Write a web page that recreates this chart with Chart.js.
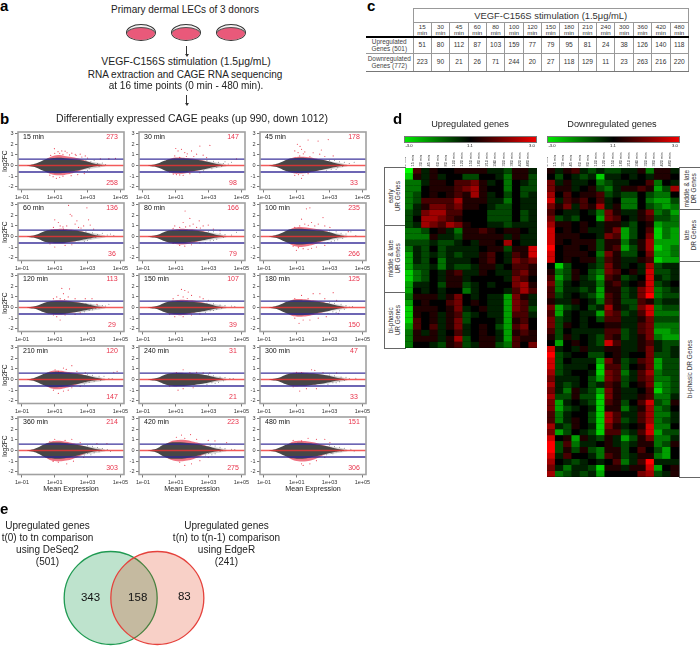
<!DOCTYPE html>
<html>
  <head>
    <meta charset="utf-8" />
    <title>VEGF-C156S CAGE time course</title>
    <script src="https://cdn.jsdelivr.net/npm/chart.js"></script>
    <style>
      html, body { margin: 0; padding: 0; background: #fff; }
      #page { position: relative; width: 700px; height: 646px; overflow: hidden; font-family: "Liberation Sans", sans-serif; color: #222; }
      #page canvas { position: absolute; }
      .txt { position: absolute; white-space: nowrap; transform: translate(-50%, -50%); text-align: center; z-index: 3; line-height: 1.2; }
      .letter { position: absolute; font-weight: bold; font-size: 15px; color: #000; z-index: 3; line-height: 1; }
      .grp { position: absolute; box-sizing: border-box; border: 1px solid #666; background: #fff; display: flex; align-items: center; justify-content: center; }
      .grp span { writing-mode: vertical-rl; transform: rotate(180deg); font-size: 6.5px; line-height: 1.15; text-align: center; color: #333; white-space: nowrap; }
      .bar { position: absolute; height: 7px; box-sizing: border-box; border: 1px solid #777; background: linear-gradient(to right, #00e800, #000 50%, #f00000); }
      .dish { position: absolute; width: 30px; height: 17px; box-sizing: border-box; border: 1px solid #333; border-radius: 50%; background: #f4f2f2; overflow: hidden; }
      .dish i { position: absolute; left: -1px; right: -1px; bottom: -1px; height: 14px; border-radius: 50%; background: #e9597a; border: 1px solid #555; box-sizing: border-box; }
      .vline { position: absolute; width: 1px; background: #333; }
      .vhead { position: absolute; width: 0; height: 0; border-left: 2px solid transparent; border-right: 2px solid transparent; border-top: 3px solid #333; }
      table.tc { position: absolute; left: 366px; top: 8px; width: 323px; border-collapse: collapse; table-layout: fixed; font-size: 6.6px; color: #333; z-index: 3; }
      table.tc td { border: 1px solid #999; text-align: center; padding: 0; line-height: 1; }
      table.tc td.blank { border: 0; }
      table.tc tr.title td { height: 13px; font-size: 9.4px; }
      table.tc tr.head td { height: 13px; border-bottom: 2px solid #000; line-height: 0.85; font-size: 6.2px; }
      table.tc tr.head td.blank { border-bottom: 2px solid #000; }
      table.tc tr.r1 td { height: 14px; }
      table.tc tr.r2 td { height: 17px; border-bottom: 1.5px solid #777; }
      table.tc td.lab { border-left: 0; font-size: 6.4px; line-height: 1.15; color: #444; }
    </style>
  </head>
  <body>
    <div id="page"></div>
    <script>
      // panel c
      const tableTimes = [15, 30, 45, 60, 80, 100, 120, 150, 180, 210, 240, 300, 360, 420, 480];
      const tableUp = [51, 80, 112, 87, 103, 159, 77, 79, 95, 81, 24, 38, 126, 140, 118];
      const tableDown = [223, 90, 21, 26, 71, 244, 20, 27, 118, 129, 11, 23, 263, 216, 220];

      // panel b, one entry per MA plot
      const panelNames = ["15 min", "30 min", "45 min", "60 min", "80 min", "100 min", "120 min", "150 min", "180 min", "210 min", "240 min", "300 min", "360 min", "420 min", "480 min"];
      const upCounts = [273, 147, 178, 136, 166, 235, 113, 107, 125, 120, 31, 47, 214, 223, 151];
      const downCounts = [258, 98, 33, 36, 79, 266, 29, 39, 150, 147, 21, 33, 303, 275, 306];
      const xTicks = [-1, 1, 3, 5];
      const yTicks = [-2, -1, 0, 1, 2, 3];
      const foldLimit = 0.6;

      // outline of the dense grey cloud, x is log10 of mean expression
      const cloudX = [-0.7, -0.3, 0, 0.3, 0.6, 1, 1.5, 2, 2.5, 3, 3.5, 3.9];
      const cloudTop = [
        [.01,.12,.28,.5,.66,.72,.72,.62,.52,.36,.14,.04],
        [.01,.1,.24,.44,.6,.66,.66,.58,.48,.33,.14,.04],
        [.01,.12,.28,.5,.66,.72,.72,.64,.54,.38,.16,.05],
        [.01,.1,.24,.44,.58,.62,.62,.58,.5,.33,.12,.03],
        [.01,.1,.22,.42,.56,.6,.62,.58,.49,.35,.14,.04],
        [.01,.12,.28,.5,.68,.74,.72,.62,.54,.4,.16,.05],
        [.01,.1,.22,.4,.54,.58,.58,.54,.45,.31,.12,.03],
        [.01,.1,.22,.42,.56,.6,.6,.54,.45,.33,.13,.03],
        [.01,.12,.28,.5,.64,.68,.66,.6,.49,.35,.16,.05],
        [.01,.12,.3,.52,.67,.72,.68,.6,.49,.35,.16,.05],
        [.01,.1,.22,.42,.56,.6,.6,.56,.49,.35,.16,.05],
        [.01,.1,.22,.42,.56,.6,.6,.56,.47,.33,.14,.04],
        [.01,.12,.3,.55,.72,.76,.74,.62,.49,.33,.14,.04],
        [.01,.12,.32,.58,.74,.78,.76,.66,.55,.37,.16,.05],
        [.01,.12,.3,.52,.67,.72,.7,.62,.49,.33,.14,.04],
      ];
      const cloudBottom = [
        [-.01,-.12,-.28,-.5,-.66,-.72,-.7,-.55,-.41,-.23,-.06,-.01],
        [-.01,-.1,-.24,-.44,-.6,-.66,-.66,-.52,-.41,-.25,-.08,-.02],
        [-.01,-.12,-.28,-.5,-.64,-.7,-.68,-.55,-.41,-.25,-.08,-.02],
        [-.01,-.1,-.24,-.44,-.56,-.6,-.6,-.5,-.37,-.21,-.06,-.01],
        [-.01,-.1,-.22,-.42,-.56,-.6,-.6,-.5,-.39,-.23,-.08,-.02],
        [-.01,-.12,-.28,-.5,-.68,-.74,-.72,-.58,-.43,-.27,-.1,-.02],
        [-.01,-.1,-.22,-.42,-.56,-.6,-.6,-.5,-.37,-.21,-.06,-.01],
        [-.01,-.1,-.22,-.42,-.56,-.6,-.6,-.5,-.39,-.23,-.08,-.01],
        [-.01,-.12,-.28,-.5,-.66,-.72,-.7,-.58,-.45,-.29,-.12,-.03],
        [-.01,-.12,-.3,-.52,-.67,-.72,-.68,-.52,-.37,-.19,-.06,-.02],
        [-.01,-.1,-.22,-.42,-.56,-.6,-.6,-.52,-.41,-.27,-.1,-.03],
        [-.01,-.1,-.22,-.42,-.56,-.58,-.58,-.5,-.39,-.25,-.1,-.03],
        [-.01,-.12,-.3,-.55,-.73,-.76,-.74,-.6,-.41,-.21,-.06,-.02],
        [-.01,-.12,-.32,-.58,-.74,-.78,-.74,-.58,-.41,-.21,-.06,-.02],
        [-.01,-.12,-.3,-.52,-.7,-.76,-.74,-.58,-.41,-.23,-.08,-.02],
      ];

      // thin sparse zone right of the cloud, same for all plots
      const tailX = [2.2, 2.6, 3, 3.4, 3.8, 4.1];
      const tailTop = [.5, .45, .4, .3, .2, .08];
      const tailBottom = [-.45, -.45, -.35, -.25, -.15, -.06];

      // how far the dense red dots reach outside the cloud
      const fringeX = [0.4, 0.8, 1.2, 1.6, 2, 2.4, 2.8, 3.2];
      const fringeTop = [
        [.55,.85,.98,.9,.8,.68,.5,.28],
        [.5,.72,.76,.72,.66,.56,.42,.2],
        [.5,.76,.82,.8,.72,.6,.44,.22],
        [.48,.68,.72,.72,.66,.56,.42,.2],
        [.46,.66,.72,.72,.68,.58,.44,.2],
        [.52,.82,.9,.86,.76,.66,.5,.26],
        [.44,.62,.68,.66,.6,.5,.36,.18],
        [.46,.66,.72,.72,.68,.56,.4,.2],
        [.5,.76,.8,.76,.68,.58,.42,.24],
        [.54,.8,.84,.76,.68,.58,.42,.24],
        [.46,.62,.64,.62,.58,.5,.38,.2],
        [.46,.63,.66,.63,.58,.48,.36,.2],
        [.6,.86,.92,.86,.74,.58,.4,.2],
        [.62,.92,1,.98,.86,.72,.5,.24],
        [.56,.86,.92,.88,.78,.62,.42,.22],
      ];
      const fringeBottom = [
        [-.55,-.82,-.92,-.88,-.75,-.55,-.32,-.1],
        [-.5,-.72,-.78,-.72,-.6,-.45,-.28,-.1],
        [-.5,-.72,-.74,-.7,-.58,-.42,-.25,-.1],
        [-.46,-.64,-.66,-.62,-.52,-.36,-.2,-.08],
        [-.46,-.66,-.74,-.72,-.6,-.44,-.26,-.1],
        [-.56,-.86,-.98,-.9,-.76,-.55,-.32,-.12],
        [-.46,-.64,-.68,-.62,-.5,-.34,-.18,-.06],
        [-.46,-.66,-.72,-.68,-.54,-.38,-.22,-.08],
        [-.54,-.82,-.86,-.82,-.7,-.52,-.34,-.16],
        [-.56,-.84,-.92,-.82,-.66,-.44,-.24,-.1],
        [-.46,-.62,-.64,-.6,-.52,-.4,-.24,-.1],
        [-.46,-.62,-.64,-.6,-.5,-.38,-.22,-.08],
        [-.62,-.94,-1.02,-.96,-.84,-.6,-.32,-.1],
        [-.62,-.92,-1.02,-.96,-.84,-.6,-.3,-.1],
        [-.6,-.9,-1.02,-1,-.86,-.6,-.3,-.12],
      ];

      // single red outliers [log10 mean, log2FC]
      const redDots = [
        [[.98,1.58],[1.2,1.3],[1.43,1.37],[1.63,1.35],[1.3,1.15],[1.75,1.2],[2.04,1.16],[2.25,1.05],[2.55,1.07],[2.3,.95],[2.86,.9],[2.65,.8],[3,.7],[3.78,.62],[1,1.15],[.75,.95],[1.5,1.05],[1.9,1],[.9,-1.05],[1.3,-1.1],[1.5,-1],[2,-.95],[2.4,-.85],[.7,-.9],[2.8,-.75],[1.1,-1.2],[4.3,.65],[4.7,.67]],
        [[1,1.6],[1.14,1.37],[1.35,1.52],[1.55,1.22],[1.96,1.37],[2.47,1.83],[3.08,1.89],[2.27,1.07],[2.67,.97],[.94,.9],[1.24,.76],[1.65,.85],[2.88,.75],[4.7,.62],[1.04,-.85],[1.45,-.92],[1.86,-.76],[2.47,-.67],[.63,-.62],[.85,-.8],[1.24,-.88],[1.7,1.1],[2.1,.85]],
        [[1.04,2],[1.29,1.52],[1.69,2.4],[2.3,2.3],[2.92,2.44],[.88,1.37],[1.08,1.22],[1.49,1.28],[2,1.2],[2.5,1.46],[2.4,1.07],[1.18,.9],[1.8,.85],[2.71,.85],[3.22,.9],[1.2,1.8],[1.4,1.1],[.88,-.92],[1.29,-1.2],[1.38,-.92],[1.69,-.76],[.98,-.67],[1.1,-.85]],
        [[1.84,2.92],[2.96,2.7],[1,1.57],[1.22,1.32],[1.94,2.09],[2.04,1.94],[3.06,1.57],[3.16,1.08],[1.33,1],[1.73,1],[2.24,1.17],[2.45,.86],[2.76,1],[2.35,1.48],[.92,.86],[1.53,.7],[3.37,.7],[1.5,.9],[2.6,.8],[1,-.98],[1.63,-.83],[2.04,-.77],[.71,-.68]],
        [[1.57,2.4],[1.86,1.7],[2.43,1.48],[.94,1],[1.24,.86],[1.45,1.32],[1.86,1],[2.27,.86],[2.67,1],[2.98,1.08],[3.29,.7],[3.7,.55],[.84,.77],[2.06,1.17],[1.6,.9],[2.5,.8],[1.24,-.83],[1.55,-.9],[1.96,-.77],[.84,-.65],[2.47,-.6]],
        [[1.59,2.6],[1.8,2.7],[2.6,1.78],[1.29,1.63],[.88,.86],[1.18,1],[1.49,1.17],[1.9,1.32],[2.1,1],[2.31,1.17],[2.71,1],[3.02,.86],[4.14,.46],[1.7,1.05],[.98,-1.29],[1.69,-1.2],[1.39,-1.14],[2.2,-.98],[2.71,-.83],[.78,-.9],[1.1,-1.05],[1.9,-1.1]],
        [[1.43,1.8],[1.9,1.75],[1.53,1.3],[1.12,1],[.92,.83],[1.33,.83],[1.82,1],[2.24,.83],[2.86,.83],[3.27,.83],[3.57,.3],[1.6,.75],[1.33,-1.17],[1.12,-.86],[1.63,-.7],[2.24,-.65],[.92,-.7],[2.55,-.5]],
        [[1.35,1.7],[1.55,1.6],[1.76,1.45],[.84,.83],[1.14,1.14],[1.45,1],[1.96,1.14],[2.47,1],[2.67,.83],[2.98,.68],[1.7,.85],[.94,-.86],[1.45,-.86],[1.96,-.7],[.63,-.65],[2.47,-.6]],
        [[2.41,1.3],[2,1.3],[3.22,1.4],[1.29,1.14],[.88,.83],[1.69,.83],[2.71,.83],[3.43,.68],[1.14,-1.48],[1.39,-1.17],[.88,-1],[1.8,-1.17],[2.31,-1],[2.8,-.86],[3.53,-.55]],
        [[2.04,1.3],[1.53,1.08],[1.02,.92],[1.22,.77],[2.35,.77],[2.86,.62],[4.6,.68],[4.8,.77],[1.7,.95],[1.22,-1.3],[.92,-1],[1.53,-1.08],[1.82,-1],[2.04,-.77],[2.55,-.65]],
        [[1.45,.92],[1.04,.65],[2.27,.68],[2.67,.62],[3.08,.62],[1.86,.66],[1.14,-1],[1.45,-.86],[.63,-.62],[2.06,-.77]],
        [[1.9,.92],[2.1,.86],[1.29,.66],[2.6,.66],[3.43,.62],[.98,.68],[1.18,-1.08],[1.59,-.86],[2.2,-.86],[.78,-.68]],
        [[1,1.05],[1.63,.95],[2.04,1.05],[2.55,.75],[3.57,.65],[4.18,.65],[.7,.85],[1.22,-1.1],[1.73,-1.25],[2.14,-1],[2.76,-.65],[.9,-1.02]],
        [[1.35,1.45],[1.9,1.5],[1.04,1.25],[1.55,1.15],[2.27,1.05],[2.98,.95],[3.39,.9],[4.1,.75],[1.55,-1.4],[1.96,-1.25],[1.24,-1.1],[2.47,-.95],[2.98,-.65]],
        [[.78,.95],[1.69,1.15],[2.2,1.05],[2.71,1.05],[1.29,.9],[3.02,.75],[1.29,-1.25],[1.39,-1.4],[1.8,-1.25],[2.2,-.95],[2.71,-.65]],
      ];

      // grey stragglers at high expression
      const greyDots = [
        [[2.9,.45],[3.2,.35],[3.4,.5],[3.6,.2],[3.3,-.05],[3,-.45],[2.8,-.55],[3.5,.1],[3.9,.25],[4.1,.1],[4.3,.6],[3.1,-.3],[3.7,-.1]],
        [[2.9,.5],[3.3,.4],[3.6,.3],[3.9,.2],[4.2,.15],[3.2,-.3],[3.5,-.15],[2.7,-.5],[4.4,.3],[3.8,-.08],[4,.35]],
        [[3,.5],[3.3,.5],[3.6,.35],[3.9,.3],[4.2,.2],[3.1,-.35],[3.5,-.2],[2.8,-.5],[4.5,.3],[3.8,-.1],[3.4,-.35]],
        [[2.9,.45],[3.3,.35],[3.6,.2],[3.9,.3],[4.2,.15],[3.2,-.2],[3.5,-.08],[2.8,-.45],[4.4,.25],[4.6,.1],[3,-.35]],
        [[3,.45],[3.3,.45],[3.7,.3],[4,.2],[4.4,.15],[3.1,-.4],[3.5,-.25],[2.8,-.55],[3.9,-.1],[3.3,-.35],[4.7,.4]],
        [[3,.55],[3.4,.45],[3.7,.3],[4,.25],[4.3,.45],[3.1,-.45],[3.5,-.3],[2.9,-.55],[3.8,-.15],[3.3,-.4],[4.6,.1]],
        [[2.9,.35],[3.2,.3],[3.6,.25],[3.9,.2],[4.3,.3],[3.1,-.25],[3.5,-.1],[2.8,-.4],[3.7,-.05],[3.3,-.2],[4.1,.15]],
        [[2.9,.4],[3.3,.35],[3.7,.25],[4,.2],[4.4,.15],[3.1,-.3],[3.5,-.15],[2.8,-.45],[3.8,-.06],[3.3,-.28],[4.6,.1]],
        [[3,.45],[3.3,.4],[3.7,.3],[4,.2],[4.4,.1],[3.2,-.4],[3.6,-.3],[2.9,-.55],[3.9,-.15],[3.4,-.45],[4.2,.05]],
        [[3,.45],[3.3,.4],[3.7,.3],[4,.3],[4.3,.1],[3.1,-.25],[3.4,-.15],[2.8,-.42],[3.8,-.08],[2.9,-.3],[4.5,.1]],
        [[3,.45],[3.3,.35],[3.7,.25],[4,.2],[4.3,.1],[3.2,-.3],[3.6,-.25],[2.9,-.45],[3.9,-.12],[3.4,-.35],[4.5,.1]],
        [[3,.42],[3.3,.35],[3.7,.25],[4,.22],[4.2,.1],[3.2,-.3],[3.6,-.2],[2.9,-.45],[3.9,-.1],[3.4,-.3],[4.6,.12]],
        [[3,.45],[3.3,.4],[3.6,.28],[3.9,.2],[4.2,.1],[3,-.25],[3.4,-.2],[2.8,-.42],[3.7,-.12],[3.2,-.4],[4.4,-.1]],
        [[3.1,.5],[3.4,.42],[3.7,.3],[4,.2],[4.4,.12],[3,-.28],[3.4,-.3],[2.8,-.42],[3.7,-.1],[3.2,-.4],[4.6,.1]],
        [[3,.45],[3.3,.38],[3.6,.3],[3.9,.22],[4.3,.12],[3.1,-.25],[3.4,-.12],[2.8,-.4],[3.7,-.08],[3.2,-.3],[4.5,-.05]],
      ];

      // panel d, rows of half-log units (-6 = -3.0, 6 = 3.0)
      const heatColumns = ["0 min", "15 min", "30 min", "45 min", "60 min", "80 min", "100 min", "120 min", "150 min", "180 min", "210 min", "240 min", "300 min", "360 min", "420 min", "480 min"];
      const upHeat = [
        [-6,2,-1,1,0,0,1,1,1,1,-1,-1,-2,1,1,-1],
        [-5,1,-1,1,-1,0,0,-2,-2,0,0,-1,-3,1,1,-2],
        [-3,-3,-1,1,1,0,2,2,3,1,-1,0,-3,0,-1,-2],
        [-3,-3,0,1,1,1,2,3,4,1,0,0,-3,0,-2,-2],
        [-3,-2,0,1,0,1,2,1,4,1,-1,0,-2,0,-2,-1],
        [-3,-2,2,2,2,2,4,1,1,1,-1,-1,-3,0,-1,-1],
        [-3,-1,1,3,3,2,3,1,1,0,-1,-2,-2,0,-1,-1],
        [-2,-1,3,4,4,2,2,0,0,0,-2,-2,-2,0,-2,-1],
        [-2,0,4,4,3,2,1,0,0,0,-2,-2,-2,0,-2,-1],
        [-2,-1,4,3,2,4,3,1,0,0,-1,-1,-2,-1,-1,-1],
        [-3,-3,-2,0,1,-1,-3,1,1,2,1,0,1,1,0,-1],
        [-3,-3,-3,1,-1,-1,-2,1,1,1,1,1,-1,1,-1,-1],
        [-2,-2,-2,-1,-2,-2,-1,0,-1,1,1,0,4,0,-1,-1],
        [-3,-1,-2,0,-2,-1,-1,-1,-1,0,1,1,-2,1,1,5],
        [-4,-1,-2,-1,-2,-1,-2,-1,-1,1,2,0,-1,2,1,5],
        [-4,-1,-2,0,-3,-1,-1,-1,0,1,2,0,-1,3,2,3],
        [-4,-2,-2,-1,-3,-1,-2,-2,-1,1,1,-1,0,2,2,1],
        [-5,-3,-2,0,-1,1,2,-1,-1,1,0,-1,-1,2,3,1],
        [-5,-3,-2,0,-1,1,1,-1,0,0,0,0,-1,3,2,0],
        [-4,-1,-1,0,-2,1,1,-2,-1,0,-1,0,0,3,4,1],
        [-4,0,-1,0,-1,0,0,-3,-1,0,0,0,-1,2,4,2],
        [-3,1,1,1,-1,1,3,0,-1,0,-1,-1,-4,3,1,-1],
        [-4,0,1,0,0,2,3,0,1,0,-1,-1,-4,3,2,-1],
        [-5,1,1,1,0,1,3,-1,0,1,-1,-1,-4,3,2,-2],
        [-5,1,0,1,-1,1,2,-2,-1,0,-1,-1,-4,2,2,-1],
        [-5,2,0,1,-1,1,3,-2,0,0,0,-1,-4,1,2,0],
        [-4,2,0,2,-1,1,3,-1,0,1,0,-2,-4,2,3,0],
        [-3,1,-1,1,-1,0,2,-1,0,1,0,-1,-4,1,2,1],
        [-3,1,1,1,-1,1,4,-2,0,1,1,-1,-4,2,1,1],
        [-3,0,0,-1,-2,1,2,-2,-1,1,1,-2,-3,2,0,3],
      ];
      const downHeat = [
        [1,-1,1,2,-1,-2,-1,-2,-2,-1,-1,1,-3,1,1,-1],
        [0,-2,0,-1,-2,-1,-5,-1,-1,0,-1,0,-1,1,1,0],
        [3,-1,1,-1,-1,0,-3,-2,-1,-1,0,0,2,-3,0,-1],
        [3,1,1,-1,0,1,-2,-3,-1,1,1,2,1,-4,-2,4],
        [4,0,2,0,1,1,2,-2,-1,-2,-2,0,-2,-3,-3,0],
        [5,-1,2,1,2,0,2,-1,0,-3,-3,0,-3,-4,-4,-2],
        [3,1,3,-1,2,1,4,-1,1,-3,-3,0,-2,-3,-4,-3],
        [2,0,-1,-1,0,-1,-3,3,1,-1,-1,1,3,-3,-2,-4],
        [3,-2,-1,-2,0,0,-4,3,2,0,-1,1,2,-2,-2,-3],
        [4,1,1,0,1,0,-1,1,1,-1,-2,0,1,-4,-3,-3],
        [5,0,1,0,1,-1,-1,1,3,-4,-2,0,2,-5,-3,-4],
        [5,1,1,1,0,0,-1,3,2,-4,-2,0,3,-5,-3,-4],
        [5,1,0,1,1,1,-2,1,1,-3,-1,1,4,-4,-4,-4],
        [6,0,1,1,0,1,-2,1,2,-4,-2,1,4,-5,-4,-3],
        [5,0,1,1,1,0,-3,3,1,-2,-2,0,3,-4,-4,-3],
        [5,0,1,0,1,1,-2,2,1,-1,-1,1,2,-5,-4,-4],
        [0,-5,-2,0,0,-1,-2,3,1,-1,0,-1,4,-2,-1,-1],
        [1,-3,-2,1,0,-2,-3,3,2,0,1,-1,5,-2,-2,-1],
        [2,-4,-2,1,-1,-2,-4,2,1,-2,-1,0,5,-1,-2,-1],
        [3,-3,-1,0,-1,-1,-3,1,2,-1,0,1,5,-2,-1,0],
        [2,-3,-1,-1,-2,-1,-4,1,1,-2,-1,3,5,-3,-2,-1],
        [2,-2,-1,0,-1,-2,-4,2,1,-2,-1,3,6,-3,-2,-2],
        [1,-1,-1,1,0,-1,-3,2,1,-2,-2,2,1,-2,-1,-1],
        [3,-4,-2,-1,0,-2,-1,4,1,-1,-2,3,5,-3,-2,-2],
        [2,-4,-1,0,-1,-1,-4,3,2,-2,-1,2,5,-3,-3,-3],
        [3,-2,-1,0,-1,0,-2,2,2,-1,-1,1,3,-2,-2,-2],
        [3,-2,1,0,-1,0,0,1,1,-1,-1,2,3,-3,-3,-3],
        [2,-2,0,-1,-1,-1,-1,2,2,-2,-1,2,3,-4,-4,-3],
        [1,-2,1,-1,0,-1,-2,2,1,-2,-1,1,3,-3,-4,-4],
        [0,-4,0,1,0,-1,-2,5,2,-1,-1,1,2,-1,-2,-2],
        [5,-1,0,-1,1,-1,-1,1,1,-1,-1,1,3,-1,-2,-1],
        [6,-2,-1,0,0,-2,-2,0,1,-1,0,0,3,-2,-2,-1],
        [5,-2,0,-1,-1,-1,-4,3,1,-2,-1,2,3,-4,-2,-2],
        [5,-2,-1,-1,-1,0,-5,2,2,-2,0,1,3,-4,-2,-2],
        [4,-2,-1,0,0,-1,-5,3,2,-3,-1,2,4,-3,-2,-2],
        [3,-1,-1,-1,0,-2,-4,3,2,-2,-1,2,3,-3,-3,-2],
        [4,-1,-2,-1,0,-2,-1,2,1,-2,0,1,3,-4,-3,-2],
        [3,-1,-3,1,-1,-2,-4,3,1,-1,-1,0,2,-5,-3,-2],
        [4,-2,-2,1,-2,-2,-5,3,1,-1,-1,1,2,-3,-3,-1],
        [3,-4,-1,0,-1,-2,-5,2,1,-2,0,2,5,-2,-3,1],
        [3,-4,-2,-1,0,-1,-5,1,1,-3,-1,1,4,-3,-2,0],
        [2,-3,-1,0,0,-2,-5,4,2,-1,-1,2,4,-3,-3,-1],
        [2,-3,-1,1,0,-2,-5,4,2,-2,-1,2,4,-3,-2,-1],
        [4,-1,-2,1,0,-1,-5,3,1,-1,0,1,5,-3,-3,0],
        [3,-4,-2,0,-1,-2,-5,2,2,-2,-1,2,5,-4,-2,-2],
        [5,0,1,-4,1,-1,-2,1,-1,-4,-2,1,3,-3,-3,-1],
        [6,-2,2,-3,-1,-1,0,1,-1,-2,-1,1,1,-3,-2,1],
        [6,-2,1,-2,1,-2,-3,1,1,-2,0,2,0,-2,-4,0],
        [5,-1,2,0,0,-1,-3,2,1,-2,-1,1,1,-3,-4,0],
        [4,0,-1,-2,-1,0,-1,0,2,-3,-1,2,6,-1,-1,-1],
        [3,-1,-3,-1,-1,-2,-5,1,1,-1,1,1,5,-4,0,1],
        [4,-3,-2,-1,-2,-1,-4,0,0,0,0,3,4,-2,-1,1],
      ];

      // panel e
      const vennCounts = [343, 158, 83];
      const vennSets = [0, 1];

      Chart.defaults.font.family = '"Liberation Sans", sans-serif';
      Chart.defaults.animation = false;
      Chart.defaults.events = [];
      Chart.defaults.plugins.legend.display = false;
      Chart.defaults.plugins.tooltip.enabled = false;

      const page = document.getElementById("page");

      function addText(text, x, y, size, extra) {
        const el = document.createElement("div");
        el.className = "txt";
        el.style.cssText = `left:${x}px;top:${y}px;font-size:${size}px;${extra || ""}`;
        el.textContent = text;
        page.appendChild(el);
        return el;
      }

      function addCanvas(x, y, w, h) {
        const c = document.createElement("canvas");
        c.width = w;
        c.height = h;
        c.style.left = x + "px";
        c.style.top = y + "px";
        page.appendChild(c);
        return c;
      }

      function addLetter(text, x, y) {
        const el = document.createElement("div");
        el.className = "letter";
        el.style.left = x + "px";
        el.style.top = y + "px";
        el.textContent = text;
        page.appendChild(el);
      }

      function pairs(xs, ys) {
        return xs.map((x, i) => ({ x: x, y: ys[i] }));
      }

      function areaSet(xs, ys, fill, color) {
        return { data: pairs(xs, ys), fill: fill, backgroundColor: color, borderWidth: 0, pointRadius: 0, tension: 0.3 };
      }

      function dotSet(list, color, r) {
        return { data: list.map((p) => ({ x: p[0], y: p[1] })), showLine: false, pointRadius: r, pointBorderWidth: 0, pointBackgroundColor: color };
      }

      const xMin = -1.24, xMax = 5.22, yMin = -2.25, yMax = 3.15;

      const boxPlugin = {
        id: "box",
        afterDraw(chart) {
          const a = chart.chartArea, ctx = chart.ctx;
          ctx.save();
          ctx.strokeStyle = "#a0a0a0";
          ctx.lineWidth = 1.6;
          ctx.strokeRect(a.left, a.top, a.right - a.left, a.bottom - a.top);
          ctx.restore();
        },
      };

      const blackPlugin = {
        id: "black",
        beforeDatasetsDraw(chart) {
          const a = chart.chartArea;
          chart.ctx.fillStyle = "#000";
          chart.ctx.fillRect(a.left, a.top, a.right - a.left, a.bottom - a.top);
        },
      };

      function maChart(i) {
        const col = i % 3, row = Math.floor(i / 3);
        const left = 18 + col * 121, top = 131 + row * 71.2;
        const canvas = addCanvas(left - 18, Math.round(top) - 3, 128, 77);
        const edges = [xMin, xMax];
        new Chart(canvas, {
          type: "line",
          data: {
            datasets: [
              { data: pairs(edges, [0, 0]), borderColor: "rgba(240,50,50,0.8)", borderWidth: 1.5, pointRadius: 0 },
              { data: pairs(edges, [foldLimit, foldLimit]), borderColor: "rgba(50,40,150,0.95)", borderWidth: 1.4, pointRadius: 0 },
              { data: pairs(edges, [-foldLimit, -foldLimit]), borderColor: "rgba(50,40,150,0.95)", borderWidth: 1.4, pointRadius: 0 },
              dotSet(redDots[i], "rgba(230,30,50,0.8)", 0.6),
              dotSet(greyDots[i], "rgba(90,90,90,0.8)", 0.5),
              areaSet(cloudX, cloudTop[i], "+1", "#474747"),
              areaSet(cloudX, cloudBottom[i], false, "#474747"),
              areaSet(tailX, tailTop, "+1", "rgba(120,120,120,0.33)"),
              areaSet(tailX, tailBottom, false, "rgba(120,120,120,0.33)"),
              areaSet(fringeX, fringeTop[i], "+1", "rgba(228,30,55,0.62)"),
              areaSet(fringeX, fringeBottom[i], false, "rgba(228,30,55,0.62)"),
            ],
          },
          options: {
            responsive: false,
            layout: { padding: { top: 3, right: 4, left: 0, bottom: 0 } },
            scales: {
              x: {
                type: "linear",
                min: xMin,
                max: xMax,
                afterBuildTicks: (s) => { s.ticks = xTicks.map((v) => ({ value: v })); },
                afterFit: (s) => { s.height = 15.5; s.paddingLeft = 0; s.paddingRight = 0; },
                border: { display: false },
                grid: { drawOnChartArea: false, tickLength: 3, color: "#555", lineWidth: 0.8 },
                ticks: {
                  autoSkip: false,
                  maxRotation: 0,
                  padding: 1.5,
                  color: "#333",
                  font: { size: 5.5 },
                  callback: (v) => "1e" + (v < 0 ? "-" : "+") + "0" + Math.abs(v),
                },
              },
              y: {
                min: yMin,
                max: yMax,
                afterBuildTicks: (s) => { s.ticks = yTicks.map((v) => ({ value: v })); },
                afterFit: (s) => { s.width = 18; s.paddingTop = 0; s.paddingBottom = 0; },
                border: { display: false },
                grid: { drawOnChartArea: false, tickLength: 3, color: "#555", lineWidth: 0.8 },
                ticks: { padding: 1.5, color: "#333", font: { size: 5.5 }, callback: (v) => String(v) },
              },
            },
          },
          plugins: [boxPlugin],
        });
        addText(panelNames[i], left + 5, top + 6, 7, "color:#111;transform:translate(0,-50%)");
        addText(upCounts[i], left + 94, top + 6, 7, "color:#e8324a");
        addText(downCounts[i], left + 94, top + 52, 7, "color:#e8324a");
        if (col === 0) addText("log2FC", 5, top + 30, 6.6, "transform:translate(-50%,-50%) rotate(-90deg)");
        if (row === 4) addText("Mean Expression", left + 53, 488.5, 7.2);
      }

      function heatColour(v) {
        // the scale of the picture stays dark until well past 1.0
        const f = Math.pow(Math.abs(v) / 6, 1.15);
        return v > 0 ? `rgb(${Math.round(f * 255)},0,0)` : `rgb(0,${Math.round(f * 255)},0)`;
      }

      function heatChart(rows, x, h) {
        const canvas = addCanvas(x, 143, 132, 25 + h);
        new Chart(canvas, {
          type: "bar",
          data: {
            labels: heatColumns,
            datasets: rows.map((row, r) => ({
              data: row.map(() => [r, r + 0.9]),
              backgroundColor: row.map(heatColour),
              barPercentage: 1,
              categoryPercentage: 1,
              grouped: false,
              borderWidth: 0,
            })),
          },
          options: {
            responsive: false,
            layout: { padding: 0 },
            scales: {
              x: {
                position: "top",
                afterFit: (s) => { s.height = 25; s.paddingLeft = 0; s.paddingRight = 0; },
                border: { display: false },
                grid: { display: false, drawTicks: false, tickLength: 0 },
                ticks: { autoSkip: false, minRotation: 90, maxRotation: 90, padding: 1.5, color: "#333", font: { size: 3.9 } },
              },
              y: { display: false, reverse: true, min: 0, max: rows.length },
            },
          },
          plugins: [blackPlugin],
        });
      }

      function colourBar(x) {
        const bar = document.createElement("div");
        bar.className = "bar";
        bar.style.left = x + "px";
        bar.style.top = "136px";
        bar.style.width = "133px";
        page.appendChild(bar);
        addText("-3.0", x + 5, 145.5, 4.2);
        addText("1.1", x + 66, 145.5, 4.2);
        addText("3.0", x + 128, 145.5, 4.2);
      }

      function groupBox(text, x, y, w, h) {
        const el = document.createElement("div");
        el.className = "grp";
        el.style.cssText = `left:${x}px;top:${y}px;width:${w}px;height:${h}px`;
        const s = document.createElement("span");
        s.innerHTML = text;
        el.appendChild(s);
        page.appendChild(el);
      }

      // panel a
      addLetter("a", 0, -2);
      addText("Primary dermal LECs of 3 donors", 185, 10, 10);
      [126, 171, 216].forEach((x) => {
        const d = document.createElement("div");
        d.className = "dish";
        d.style.left = x + "px";
        d.style.top = "24px";
        d.appendChild(document.createElement("i"));
        page.appendChild(d);
      });
      [[46, 9], [95, 9]].forEach((v) => {
        const l = document.createElement("div");
        l.className = "vline";
        l.style.cssText = `left:186px;top:${v[0]}px;height:${v[1]}px`;
        page.appendChild(l);
        const h = document.createElement("div");
        h.className = "vhead";
        h.style.cssText = `left:184.5px;top:${v[0] + v[1] - 1}px`;
        page.appendChild(h);
      });
      addText("VEGF-C156S stimulation (1.5μg/mL)", 186, 62, 10.4);
      addText("RNA extraction and CAGE RNA sequencing", 185, 74.5, 10);
      addText("at 16 time points (0 min - 480 min).", 186, 86, 10);

      // panel b
      addLetter("b", 0, 111);
      addText("Differentially expressed CAGE peaks (up 990, down 1012)", 192, 118, 10.5);
      panelNames.forEach((n, i) => maChart(i));

      // panel c
      addLetter("c", 367, -2);
      const table = document.createElement("table");
      table.className = "tc";
      const cols = '<col style="width:47px">' + tableTimes.map(() => "<col>").join("");
      table.innerHTML =
        "<colgroup>" + cols + "</colgroup>" +
        '<tr class="title"><td class="blank"></td><td colspan="15">VEGF-C156S stimulation (1.5μg/mL)</td></tr>' +
        '<tr class="head"><td class="blank"></td>' + tableTimes.map((t) => `<td>${t}<br>min</td>`).join("") + "</tr>" +
        '<tr class="r1"><td class="lab">Upregulated<br>Genes (501)</td>' + tableUp.map((v) => `<td>${v}</td>`).join("") + "</tr>" +
        '<tr class="r2"><td class="lab">Downregulated<br>Genes (772)</td>' + tableDown.map((v) => `<td>${v}</td>`).join("") + "</tr>";
      page.appendChild(table);

      // panel d
      addLetter("d", 393, 111);
      addText("Upregulated genes", 470, 125, 9.2);
      addText("Downregulated genes", 612, 125, 9.2);
      colourBar(404);
      colourBar(547);
      groupBox("early<br>UR Genes", 384, 167, 21.5, 59);
      groupBox("middle &amp; late<br>UR Genes", 384, 225, 21.5, 68);
      groupBox("bi-phasic<br>UR Genes", 384, 292, 21.5, 57);
      groupBox("middle &amp; late<br>DR Genes", 679, 167, 22, 43);
      groupBox("late<br>DR Genes", 679, 209, 22, 53);
      groupBox("bi-phasic DR Genes", 679, 261, 22, 217);
      heatChart(upHeat, 405, 180);
      heatChart(downHeat, 547, 309);

      // panel e
      addLetter("e", 0, 501);
      ["Upregulated genes", "t(0) to tn comparison", "using DeSeq2", "(501)"].forEach((t, i) => addText(t, 47.5, 525.7 + i * 12, 10));
      ["Upregulated genes", "t(n) to t(n-1) comparison", "using EdgeR", "(241)"].forEach((t, i) => addText(t, 226.5, 525.7 + i * 12, 10));
      new Chart(addCanvas(50, 549, 168, 98), {
        type: "bubble",
        data: {
          datasets: [
            { data: [{ x: vennSets[1], y: 0, r: 46.5 }], backgroundColor: "rgba(223,41,0,0.22)", borderColor: "#e5423c", borderWidth: 1.3 },
            { data: [{ x: vennSets[0], y: 0, r: 46.5 }], backgroundColor: "rgb(190,227,205)", borderColor: "#1f9a52", borderWidth: 1.3 },
          ],
        },
        options: {
          responsive: false,
          layout: { padding: 0, autoPadding: false },
          scales: {
            x: { display: false, min: -1.3, max: 2.3 },
            y: { display: false, min: -1, max: 1 },
          },
        },
      });
      addText(vennCounts[0], 90.5, 598, 11.5, "color:#111");
      addText(vennCounts[1], 137.7, 598, 11.5, "color:#111");
      addText(vennCounts[2], 184.3, 597, 11.5, "color:#111");
    </script>
  </body>
</html>
